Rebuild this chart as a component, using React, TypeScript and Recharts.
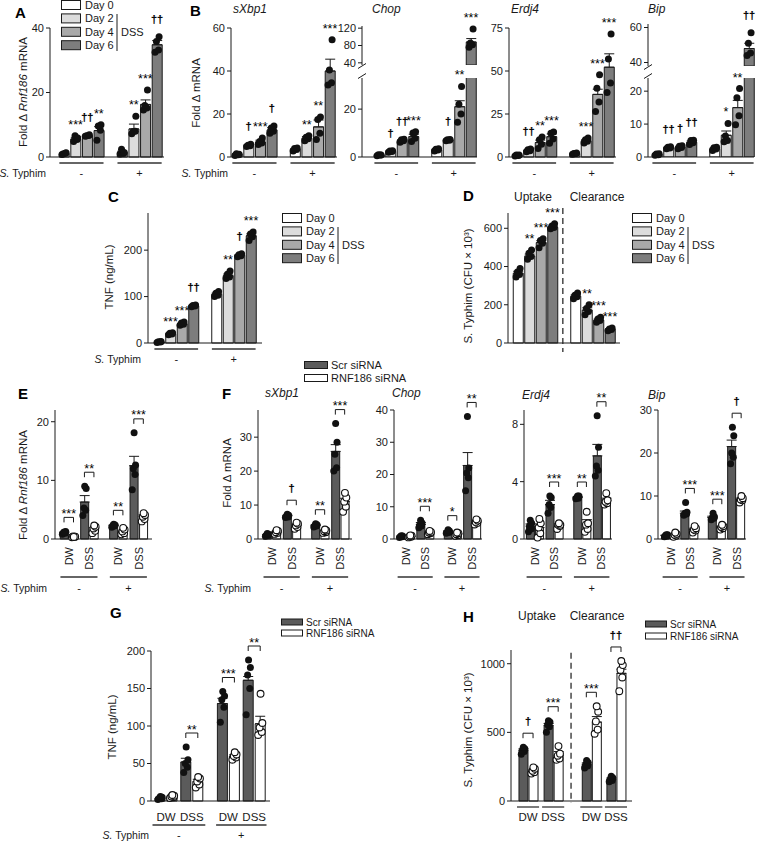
import React from 'react';
import { ComposedChart, Bar, Cell, ErrorBar, Scatter, XAxis, YAxis, ReferenceDot, ReferenceLine, Legend } from 'recharts';

const INK = '#1a1a1a';
const FONT = '"Liberation Sans", Arial, Helvetica, sans-serif';
const DAY_FILLS = ['#ffffff', '#dcdcdc', '#a9a9a9', '#7d7d7d'];
const SCR_FILL = '#5b5b5b';
const RNF_FILL = '#ffffff';

// ---------- categories & labels ----------
const dayLabels = ['Day 0', 'Day 2', 'Day 4', 'Day 6'];
const siLabels = ['Scr siRNA', 'RNF186 siRNA'];
const typhimLabels = ['-', '+'];
const treatLabels = ['DW', 'DSS'];

// ---------- A: Rnf186 mRNA ----------
const A_mean = [1.0, 5.6, 6.6, 8.2, 1.4, 8.7, 16.3, 34.8];
const A_err = [0.15, 0.5, 0.15, 1.2, 0.4, 1.5, 1.4, 1.3];
const A_dots = [[0.8, 1.2, 1.0, 1.3], [4.8, 5.4, 6.6, 5.9], [6.4, 6.7, 6.6, 6.9], [5.2, 8.3, 9.6, 10.0], [0.9, 1.1, 2.4, 1.4], [7.2, 8.0, 7.9, 12.6], [14.6, 15.2, 16.0, 20.8], [32.5, 33.2, 35.8, 37.3]];
const A_sig = ['', '***', '††', '**', '', '**', '***', '††'];

// ---------- B ----------
const Bx_mean = [1.2, 5.4, 7.0, 12.6, 3.6, 8.8, 14.0, 40.0];
const Bx_err = [0.3, 0.3, 0.8, 1.0, 0.4, 0.7, 3.2, 5.5];
const Bx_dots = [[0.7, 1.0, 1.5, 1.3], [4.9, 5.2, 5.5, 5.9], [5.8, 6.5, 7.2, 8.8], [11.0, 12.0, 13.5, 14.4], [2.8, 3.5, 4.0, 4.2], [7.6, 8.5, 9.2, 9.9], [8.1, 11.0, 17.4, 18.6], [33.5, 34.5, 40.5, 54.5]];
const Bx_sig = ['', '†', '***', '†', '', '**', '**', '***'];

const Bc_mean = [0.8, 2.4, 6.9, 8.5, 3.0, 7.1, 21.0, 88];
const Bc_err = [0.1, 0.2, 0.4, 1.0, 0.3, 0.3, 2.5, 8];
const Bc_dots = [[0.5, 0.8, 0.9, 0.8], [2.0, 2.3, 2.5, 2.6], [6.2, 6.8, 7.2, 7.4], [6.5, 7.8, 10.0, 10.5], [2.5, 2.9, 3.2, 3.4], [6.8, 7.0, 7.2, 7.3], [14.5, 18.0, 22.0, 29.5], [76, 82, 86, 118]];
const Bc_sig = ['', '†', '††', '***', '', '†', '**', '***'];

const Be_mean = [1.0, 3.8, 8.4, 11.8, 2.0, 9.5, 36.4, 52.2];
const Be_err = [0.2, 0.4, 1.4, 1.6, 0.2, 0.7, 3.0, 7.8];
const Be_dots = [[0.6, 0.9, 1.1, 1.2], [3.0, 3.6, 4.2, 4.6], [5.0, 7.4, 10.0, 11.6], [8.0, 10.5, 13.8, 14.5], [1.6, 2.0, 2.1, 2.3], [8.2, 9.2, 10.1, 11.0], [26.5, 32.0, 40.0, 47.8], [37.5, 43.0, 57.0, 71.5]];
const Be_sig = ['', '††', '**', '***', '', '***', '***', '***'];

const Bb_mean = [0.8, 2.8, 3.0, 4.5, 2.5, 6.6, 15.0, 48];
const Bb_err = [0.1, 0.2, 0.3, 0.4, 0.3, 1.3, 2.2, 3.0];
const Bb_dots = [[0.5, 0.7, 0.9, 1.0], [2.5, 2.7, 3.0, 3.1], [2.5, 2.9, 3.3, 3.4], [3.8, 4.3, 5.0, 5.1], [2.0, 2.4, 2.8, 3.0], [4.6, 5.0, 6.4, 10.2], [9.8, 12.5, 18.0, 20.8], [44, 45.5, 51, 57]];
const Bb_sig = ['', '††', '†', '††', '', '*', '**', '††'];

// ---------- C: TNF ----------
const C_mean = [2, 20, 41, 80, 105, 145, 189, 231];
const C_err = [0.5, 1, 1.5, 1, 2.5, 3.5, 1, 4];
const C_dots = [[1, 2, 2.5, 3], [18, 19.5, 21, 22], [38, 40.5, 43, 45], [78, 79.5, 81, 82], [100, 103, 107, 111], [139, 142, 148, 155], [186, 188, 190, 192], [221, 229, 235, 239]];
const C_sig = ['', '***', '***', '††', '', '**', '†', '***'];

// ---------- D: S. Typhim CFU ----------
const D_mean = [365, 455, 525, 605, 245, 172, 120, 72];
const D_err = [10, 10, 10, 6, 7, 12, 6, 3];
const D_dots = [[345, 358, 372, 390], [438, 452, 470, 486], [498, 522, 536, 545], [598, 604, 612, 624], [232, 242, 250, 262], [148, 165, 180, 200], [108, 118, 126, 135], [64, 70, 73, 79]];
const D_sig = ['', '**', '***', '***', '', '**', '***', '***'];

// ---------- E ----------
const E_mean = [1.1, 0.4, 6.3, 1.7, 2.3, 1.3, 12.5, 3.8];
const E_err = [0.1, 0.05, 1.1, 0.25, 0.1, 0.2, 1.6, 0.3];
const E_dots = [[0.8, 1.0, 1.1, 1.3, 1.2], [0.3, 0.4, 0.45, 0.4, 0.35], [4.0, 4.9, 5.3, 8.6, 9.0], [1.0, 1.4, 1.8, 2.1, 2.3], [2.0, 2.2, 2.3, 2.4, 2.5], [0.8, 1.0, 1.3, 1.6, 1.9], [8.4, 11.0, 12.0, 12.6, 18.1], [3.0, 3.4, 3.8, 4.1, 4.4]];
const E_sig = ['***', '**', '**', '***'];

// ---------- F ----------
const Fx_mean = [1.2, 2.0, 6.8, 4.0, 4.0, 2.3, 25.8, 11.0];
const Fx_err = [0.15, 0.3, 0.2, 0.3, 0.2, 0.2, 2.0, 1.0];
const Fx_dots = [[0.8, 1.0, 1.2, 1.4, 1.6], [1.5, 1.8, 2.0, 2.4, 2.6], [6.3, 6.5, 6.8, 7.0, 7.3], [3.0, 3.5, 4.0, 4.5, 4.8], [3.5, 3.8, 4.0, 4.2, 4.5], [1.8, 2.0, 2.3, 2.5, 2.8], [20.0, 21.0, 25.0, 28.5, 34.0], [8.0, 9.5, 11.0, 12.2, 13.6]];
const Fx_sig = ['', '†', '**', '***'];

const Fc_mean = [0.8, 0.8, 4.5, 2.0, 2.3, 1.5, 22.8, 5.3];
const Fc_err = [0.1, 0.1, 0.6, 0.2, 0.3, 0.2, 4.0, 0.3];
const Fc_dots = [[0.5, 0.7, 0.8, 0.9, 1.0], [0.5, 0.7, 0.8, 1.0, 1.1], [3.5, 4.0, 4.5, 5.0, 5.8], [1.5, 1.8, 2.0, 2.2, 2.5], [1.8, 2.0, 2.2, 2.5, 2.9], [1.0, 1.2, 1.5, 1.8, 2.0], [15.0, 19.0, 20.5, 22.0, 38.0], [4.5, 5.0, 5.3, 5.7, 6.1]];
const Fc_sig = ['', '***', '*', '**'];

const Fe_mean = [0.9, 0.8, 2.4, 0.95, 2.9, 1.05, 5.8, 2.7];
const Fe_err = [0.15, 0.25, 0.3, 0.1, 0.05, 0.3, 0.8, 0.15];
const Fe_dots = [[0.5, 0.7, 0.9, 1.1, 1.3], [0.1, 0.4, 0.8, 1.1, 1.4], [1.8, 2.2, 2.4, 2.9, 3.0], [0.7, 0.9, 1.0, 1.0, 1.1], [2.8, 2.85, 2.9, 3.0, 3.0], [0.5, 0.7, 1.0, 1.1, 1.9], [4.4, 4.8, 5.1, 6.4, 8.6], [2.4, 2.5, 2.6, 2.7, 3.2]];
const Fe_sig = ['', '***', '**', '**'];

const Fb_mean = [0.8, 0.9, 6.0, 2.2, 5.0, 2.8, 21.5, 9.2];
const Fb_err = [0.1, 0.2, 0.5, 0.3, 0.3, 0.2, 1.5, 0.3];
const Fb_dots = [[0.5, 0.7, 0.8, 1.0, 1.0], [0.5, 0.8, 1.0, 1.2, 1.5], [5.5, 5.8, 6.0, 6.2, 8.5], [1.5, 2.0, 2.2, 2.5, 3.0], [4.5, 4.8, 5.0, 5.2, 6.0], [2.2, 2.5, 2.8, 3.0, 3.3], [17.5, 19.0, 20.0, 24.0, 26.0], [8.5, 9.0, 9.2, 9.5, 10.0]];
const Fb_sig = ['', '***', '***', '†'];

// ---------- G: TNF siRNA ----------
const G_mean = [4, 6, 52, 26, 130, 60, 161, 103];
const G_err = [1, 1, 5, 3, 7, 2, 5, 10];
const G_dots = [[2, 3, 4, 5, 6], [4, 5, 6, 7, 8], [38, 45, 50, 55, 72], [18, 22, 26, 30, 32], [105, 125, 135, 140, 146], [55, 58, 60, 62, 65], [115, 150, 168, 178, 188], [88, 92, 98, 104, 143]];
const G_sig = ['', '**', '***', '**'];

// ---------- H: CFU siRNA ----------
const H_mean = [370, 220, 550, 335, 265, 575, 160, 930];
const H_err = [10, 10, 15, 25, 12, 40, 8, 30];
const H_dots = [[340, 360, 370, 380, 392], [200, 210, 220, 235, 245], [500, 540, 555, 575, 585], [300, 310, 330, 345, 400], [240, 255, 265, 280, 295], [490, 520, 580, 650, 690], [140, 150, 160, 170, 180], [800, 900, 955, 990, 1020]];
const H_sig = ['†', '***', '***', '††'];

// ---------- layout helpers ----------
const DAY_SLOTS = [0, 1, 2, 3, 5, 6, 7, 8];
const SI_SLOTS = [0, 1, 2.15, 3.15, 5.2, 6.2, 7.35, 8.35];
const H_SLOTS = [0, 1, 2.5, 3.5, 6.3, 7.3, 8.75, 9.75];
const JIT = [-0.17, 0.13, -0.05, 0.18, 0.03];
const TICK_FS = 11;
const LABEL_FS = 11;

type Seg = [string, boolean?];

const dayBottom = (dx: number, typhim: boolean) => ({
  groups: [{ c: 1.5, half: 1.9, label: typhimLabels[0] }, { c: 6.5, half: 1.9, label: typhimLabels[1] }],
  gLineDy: 6, gTextDy: 16, typhim, typhimDx: dx,
});
const siPairC = [0.5, 2.65, 5.7, 7.85];
const siBottomRot = (dx: number, typhim: boolean) => ({
  groups: [{ c: 1.575, half: 1.95, label: typhimLabels[0] }, { c: 6.775, half: 1.95, label: typhimLabels[1] }],
  gLineDy: 38, gTextDy: 49, typhim, typhimDx: dx,
  pairs: siPairC.map((c, i) => ({ c, label: treatLabels[i % 2] })), pairMode: 'rot', pairDy: 8,
});

function daySpec(o: any) {
  return { barW: 10, ...o, slots: DAY_SLOTS, fills: DAY_SLOTS.map((_, i) => DAY_FILLS[i % 4]), open: DAY_SLOTS.map(() => false) };
}
function siSpec(o: any) {
  const slots = o.slots || SI_SLOTS;
  return { barW: 8, ...o, slots, fills: slots.map((_: any, i: number) => (i % 2 ? RNF_FILL : SCR_FILL)), open: slots.map((_: any, i: number) => i % 2 === 1) };
}

function DayLegendSvg() {
  return (
    <svg width={110} height={58} style={{ display: 'block', overflow: 'visible', fontFamily: FONT }}>
      {dayLabels.map((d, i) => {
        const cy = 5 + i * 13.4;
        return (
          <g key={d}>
            <rect x={0.5} y={cy - 4.5} width={19} height={9} fill={DAY_FILLS[i]} stroke={INK} strokeWidth={1} />
            <text x={24} y={cy} dominantBaseline="central" fontSize={11} fill={INK}>{d}</text>
          </g>
        );
      })}
      <line x1={56} x2={56} y1={14} y2={51} stroke={INK} strokeWidth={1} />
      <text x={60} y={32} dominantBaseline="central" fontSize={11} fill={INK}>DSS</text>
    </svg>
  );
}

function SiLegendSvg({ fs, gap, bw, bh }: any) {
  return (
    <svg width={120} height={30} style={{ display: 'block', overflow: 'visible', fontFamily: FONT }}>
      {siLabels.map((l, i) => {
        const cy = 5 + i * gap;
        return (
          <g key={l}>
            <rect x={0.5} y={cy - bh / 2} width={bw} height={bh} fill={i ? RNF_FILL : SCR_FILL} stroke={INK} strokeWidth={1} />
            <text x={bw + 4} y={cy} dominantBaseline="central" fontSize={fs} fill={INK}>{l}</text>
          </g>
        );
      })}
    </svg>
  );
}

function Panel({ s }: { s: any }) {
  const [L, T, W, H] = s.box;
  const [x0, y0, x1, y1] = s.plot;
  const xDomain: [number, number] = [-(s.first - x0) / s.unit, (x1 - s.first) / s.unit];
  const [ymin, ymax] = s.yDomain;
  const rows = s.slots.map((x: number, i: number) => ({
    x,
    mean: s.clip && s.means[i] < ymin ? null : s.means[i],
    errRange: [0, s.errs[i]], fill: s.fills[i], open: s.open[i], dots: s.dots[i],
    top: Math.max(s.means[i] + s.errs[i], ...s.dots[i]),
  }));
  const inY = (v: number) => v >= ymin && v <= ymax;
  const solid: any[] = [];
  const hollow: any[] = [];
  rows.forEach((r: any) => r.dots.forEach((v: number, j: number) => {
    if (!inY(v)) return;
    (r.open ? hollow : solid).push({ x: r.x + JIT[j % JIT.length], y: v });
  }));
  const sigs = (s.sig || []).map((t: string, i: number) => ({ t, x: rows[i].x, y: rows[i].top })).filter((m: any) => m.t && inY(m.y));
  const brackets = (s.pairSig || []).map((t: string, k: number) => ({
    t, x: (rows[2 * k].x + rows[2 * k + 1].x) / 2, hw: ((rows[2 * k + 1].x - rows[2 * k].x) / 2) * s.unit,
    y: Math.max(rows[2 * k].top, rows[2 * k + 1].top),
  })).filter((b: any) => b.t);
  const margin = { top: y0 - T, right: L + W - x1, left: 0, bottom: s.hideX ? T + H - y1 : 0 };
  const yW = x0 - L;
  const xH = T + H - y1;
  const b = s.bottom;
  const tickVals = b ? [...(b.groups || []).map((g: any) => g.c), ...(b.pairs || []).map((p: any) => p.c)].sort((a, c) => a - c) : [];

  const renderTick = (p: any) => {
    const v = p.payload.value;
    const x = p.x;
    const y = p.y;
    const g = (b.groups || []).find((q: any) => Math.abs(q.c - v) < 1e-6);
    if (g) {
      const hw = g.half * s.unit;
      const first = g === b.groups[0];
      const plotLeft = x - (v - xDomain[0]) * s.unit;
      return (
        <g>
          <line x1={x - hw} x2={x + hw} y1={y + b.gLineDy} y2={y + b.gLineDy} stroke="#333" strokeWidth={1.3} />
          <text x={x} y={y + b.gTextDy} textAnchor="middle" dominantBaseline="central" fontSize={LABEL_FS} fill={INK}>{g.label}</text>
          {b.typhim && first ? (
            <text x={plotLeft + b.typhimDx} y={y + b.gTextDy} textAnchor="end" dominantBaseline="central" fontSize={10.5} fill={INK}>
              <tspan fontStyle="italic">S.</tspan> Typhim
            </text>
          ) : null}
        </g>
      );
    }
    const pr = (b.pairs || []).find((q: any) => Math.abs(q.c - v) < 1e-6);
    if (pr) {
      if (b.pairMode === 'rot') {
        return (
          <text transform={`translate(${x},${y + b.pairDy}) rotate(-90)`} textAnchor="end" dominantBaseline="central" fontSize={LABEL_FS} fill={INK}>{pr.label}</text>
        );
      }
      return (
        <g>
          {b.pairLineDy != null ? (
            <line x1={x - b.pairHalf * s.unit} x2={x + b.pairHalf * s.unit} y1={y + b.pairLineDy} y2={y + b.pairLineDy} stroke="#333" strokeWidth={1.3} />
          ) : null}
          <text x={x} y={y + b.pairDy} textAnchor="middle" dominantBaseline="central" fontSize={LABEL_FS + 0.5} fill={INK}>{pr.label}</text>
        </g>
      );
    }
    return <g />;
  };

  const markText = (t: string, x: number, y: number) => {
    const star = t.includes('*');
    return (
      <text x={x} y={y} textAnchor="middle" fontSize={star ? 12.5 : 11} fontWeight={star ? 'normal' : 'bold'}
        fill="#000" stroke={star ? 'none' : '#000'} strokeWidth={star ? 0 : 0.2}>{t}</text>
    );
  };
  const sigShape = (t: string) => (p: any) => markText(t, p.cx, p.cy - (t.includes('*') ? 7 : 14));
  const bracketShape = (t: string, hw: number) => (p: any) => {
    const ly = p.cy - 14;
    return (
      <g>
        <path d={`M${p.cx - hw},${ly + 5}V${ly}H${p.cx + hw}V${ly + 5}`} fill="none" stroke={INK} strokeWidth={1} />
        {markText(t, p.cx, t.includes('*') ? ly + 0.5 : ly - 8)}
      </g>
    );
  };

  let legendEl = null;
  if (s.legend) {
    const lg = s.legend;
    const content = lg.kind === 'day'
      ? () => <DayLegendSvg />
      : () => <SiLegendSvg fs={lg.fs} gap={lg.gap} bw={lg.bw} bh={lg.bh} />;
    legendEl = (
      <Legend
        layout="horizontal"
        verticalAlign="middle"
        align="center"
        content={content}
        wrapperStyle={{ position: 'absolute', left: lg.x - L, top: lg.y - T, width: 120, height: 60, margin: 0 }}
      />
    );
  }

  return (
    <div style={{ position: 'absolute', left: L, top: T, width: W, height: H }}>
      <ComposedChart width={W} height={H} data={rows} margin={margin}>
        <XAxis
          xAxisId="a" type="number" dataKey="x" domain={xDomain} hide={!!s.hideX} height={xH}
          ticks={tickVals} interval={0} tickLine={false} tickSize={0} tickMargin={0}
          tick={b ? renderTick : false} axisLine={{ stroke: INK, strokeWidth: 1 }}
        />
        <XAxis xAxisId="z" type="number" dataKey="x" domain={xDomain} hide height={0} />
        <YAxis
          yAxisId="a" type="number" domain={s.yDomain} ticks={s.yTicks} interval={0} width={yW}
          allowDataOverflow={!!s.clip} tickSize={4} tickMargin={2}
          tick={{ fontSize: TICK_FS, fill: INK }} axisLine={{ stroke: INK, strokeWidth: 1 }} tickLine={{ stroke: INK }}
        />
        <YAxis yAxisId="z" type="number" domain={s.yDomain} hide width={0} />
        {legendEl}
        <Bar xAxisId="a" yAxisId="a" dataKey="mean" barSize={s.barW} stroke={INK} strokeWidth={1} isAnimationActive={false}>
          {rows.map((r: any, i: number) => <Cell key={i} fill={r.fill} />)}
          <ErrorBar dataKey="errRange" width={5} stroke={INK} strokeWidth={1} direction="y" isAnimationActive={false} />
        </Bar>
        {s.dash ? (
          <ReferenceLine
            xAxisId="a" yAxisId="a" ifOverflow="visible" stroke={INK} strokeWidth={1.2} strokeDasharray="6 4"
            segment={[{ x: s.dash.x, y: s.dash.from }, { x: s.dash.x, y: s.dash.to }]}
          />
        ) : null}
        {solid.length ? (
          <Scatter xAxisId="z" yAxisId="z" data={solid} dataKey="y" isAnimationActive={false}
            shape={(p: any) => <circle cx={p.cx} cy={p.cy} r={3.5} fill="#111" />} />
        ) : null}
        {hollow.length ? (
          <Scatter xAxisId="z" yAxisId="z" data={hollow} dataKey="y" isAnimationActive={false}
            shape={(p: any) => <circle cx={p.cx} cy={p.cy} r={3.4} fill="#fff" stroke="#111" strokeWidth={1.1} />} />
        ) : null}
        {sigs.map((m: any, i: number) => (
          <ReferenceDot key={'s' + i} xAxisId="a" yAxisId="a" x={m.x} y={m.y} ifOverflow="visible" shape={sigShape(m.t)} />
        ))}
        {brackets.map((m: any, i: number) => (
          <ReferenceDot key={'b' + i} xAxisId="a" yAxisId="a" x={m.x} y={m.y} ifOverflow="visible" shape={bracketShape(m.t, m.hw)} />
        ))}
      </ComposedChart>
    </div>
  );
}

const SPECS: any[] = [
  daySpec({ id: 'A', box: [0, 0, 172, 182], plot: [50, 28, 164, 157], first: 64, unit: 11.625, yDomain: [0, 40], yTicks: [0, 20, 40],
    means: A_mean, errs: A_err, dots: A_dots, sig: A_sig, bottom: dayBottom(-4, true), legend: { kind: 'day', x: 61, y: -0.5 } }),
  daySpec({ id: 'Bx', box: [172, 0, 170, 182], plot: [231, 28, 337, 157], first: 237, unit: 11.625, yDomain: [0, 60], yTicks: [0, 20, 40, 60],
    means: Bx_mean, errs: Bx_err, dots: Bx_dots, sig: Bx_sig, bottom: dayBottom(-3, true) }),
  daySpec({ id: 'BcLo', box: [330, 55, 152, 127], plot: [362, 78, 477, 157], first: 379, unit: 11.5, yDomain: [0, 33], yTicks: [0, 20], clip: true,
    means: Bc_mean, errs: Bc_err, dots: Bc_dots, sig: Bc_sig, bottom: dayBottom(-4, false) }),
  daySpec({ id: 'BcUp', box: [330, 0, 152, 70], plot: [362, 26, 477, 65], first: 379, unit: 11.5, yDomain: [35, 125], yTicks: [40, 80, 120], clip: true, hideX: true,
    means: Bc_mean, errs: Bc_err, dots: Bc_dots, sig: Bc_sig }),
  daySpec({ id: 'Be', box: [482, 0, 138, 182], plot: [509, 28, 616, 157], first: 517, unit: 11.5, yDomain: [0, 75], yTicks: [0, 25, 50, 75],
    means: Be_mean, errs: Be_err, dots: Be_dots, sig: Be_sig, bottom: dayBottom(-4, false) }),
  daySpec({ id: 'BbLo', box: [620, 55, 139, 127], plot: [648, 78, 754, 157], first: 657, unit: 11.5, yDomain: [0, 24], yTicks: [0, 10, 20], clip: true,
    means: Bb_mean, errs: Bb_err, dots: Bb_dots, sig: Bb_sig, bottom: dayBottom(-4, false) }),
  daySpec({ id: 'BbUp', box: [620, 0, 139, 72], plot: [648, 24, 754, 66], first: 657, unit: 11.5, yDomain: [38, 62], yTicks: [40, 60], clip: true, hideX: true,
    means: Bb_mean, errs: Bb_err, dots: Bb_dots, sig: Bb_sig }),
  daySpec({ id: 'C', box: [80, 200, 285, 165], plot: [148, 213, 262, 343], first: 159, unit: 11.5, yDomain: [0, 280], yTicks: [0, 100, 200],
    means: C_mean, errs: C_err, dots: C_dots, sig: C_sig, bottom: dayBottom(-7, true), legend: { kind: 'day', x: 282, y: 213 } }),
  daySpec({ id: 'D', box: [455, 190, 304, 170], plot: [508, 213, 620, 343], first: 518, unit: 11.5, yDomain: [0, 680], yTicks: [0, 200, 400, 600],
    means: D_mean, errs: D_err, dots: D_dots, sig: D_sig, dash: { x: 3.9, from: 706, to: -47 }, legend: { kind: 'day', x: 632, y: 213 } }),
  siSpec({ id: 'E', box: [0, 395, 160, 203], plot: [55, 410, 152, 539], first: 64, unit: 9.5, yDomain: [0, 22], yTicks: [0, 10, 20],
    means: E_mean, errs: E_err, dots: E_dots, pairSig: E_sig, bottom: siBottomRot(-8, true) }),
  siSpec({ id: 'Fx', box: [195, 355, 205, 243], plot: [258, 410, 352, 539], first: 267, unit: 9.3, yDomain: [0, 38], yTicks: [0, 10, 20, 30],
    means: Fx_mean, errs: Fx_err, dots: Fx_dots, pairSig: Fx_sig, bottom: siBottomRot(-7, true),
    legend: { kind: 'si', x: 304, y: 360, fs: 11, gap: 13, bw: 23, bh: 7 } }),
  siSpec({ id: 'Fc', box: [370, 390, 117, 208], plot: [394, 410, 482, 539], first: 401, unit: 9, yDomain: [0, 40], yTicks: [0, 10, 20, 30, 40],
    means: Fc_mean, errs: Fc_err, dots: Fc_dots, pairSig: Fc_sig, bottom: siBottomRot(-8, false) }),
  siSpec({ id: 'Fe', box: [500, 390, 117, 208], plot: [524, 410, 612, 539], first: 530, unit: 9.1, yDomain: [0, 9], yTicks: [0, 4, 8],
    means: Fe_mean, errs: Fe_err, dots: Fe_dots, pairSig: Fe_sig, bottom: siBottomRot(-8, false) }),
  siSpec({ id: 'Fb', box: [630, 385, 125, 213], plot: [658, 410, 746, 539], first: 666, unit: 9, yDomain: [0, 30], yTicks: [0, 10, 20, 30],
    means: Fb_mean, errs: Fb_err, dots: Fb_dots, pairSig: Fb_sig, bottom: siBottomRot(-8, false) }),
  siSpec({ id: 'G', box: [95, 605, 290, 236], plot: [151, 651, 270, 801], first: 160, unit: 12, barW: 10, yDomain: [0, 200], yTicks: [0, 50, 100, 150, 200],
    means: G_mean, errs: G_err, dots: G_dots, pairSig: G_sig,
    bottom: {
      groups: [{ c: 1.575, half: 2.2, label: typhimLabels[0] }, { c: 6.775, half: 2.1, label: typhimLabels[1] }],
      gLineDy: 24, gTextDy: 34, typhim: true, typhimDx: -2,
      pairs: siPairC.map((c, i) => ({ c, label: treatLabels[i % 2] })), pairMode: 'flat', pairDy: 15.5,
    },
    legend: { kind: 'si', x: 281, y: 617, fs: 10, gap: 11, bw: 21, bh: 6 } }),
  siSpec({ id: 'H', box: [455, 600, 304, 230], plot: [511, 650, 632, 801], first: 523, unit: 10.05, slots: H_SLOTS, barW: 9, yDomain: [0, 1100], yTicks: [0, 500, 1000],
    means: H_mean, errs: H_err, dots: H_dots, pairSig: H_sig, dash: { x: 4.78, from: 1080, to: -15 },
    bottom: {
      pairs: [0.5, 3.0, 6.8, 9.25].map((c, i) => ({ c, label: treatLabels[i % 2] })), pairMode: 'flat', pairDy: 16, pairLineDy: 6, pairHalf: 1.1,
    },
    legend: { kind: 'si', x: 645, y: 619, fs: 10, gap: 12, bw: 21, bh: 6 } }),
];

function VTitle({ x, y, segs }: { x: number; y: number; segs: Seg[] }) {
  return (
    <text transform={`translate(${x},${y}) rotate(-90)`} textAnchor="middle" dominantBaseline="central" fontSize={11.5} fill={INK}>
      {segs.map(([t, it], i) => <tspan key={i} fontStyle={it ? 'italic' : 'normal'}>{t}</tspan>)}
    </text>
  );
}

const RNF_TITLE: Seg[] = [['Fold Δ '], ['Rnf186', true], [' mRNA']];
const FOLD_TITLE: Seg[] = [['Fold Δ mRNA']];
const TNF_TITLE: Seg[] = [['TNF (ng/mL)']];
const CFU_TITLE: Seg[] = [['S. Typhim (CFU × 10³)']];

function Overlay() {
  const letters: [string, number, number][] = [['A', 15, 17.5], ['B', 190, 15.5], ['C', 108, 202], ['D', 463, 200.5], ['E', 18, 398.5], ['F', 222, 398.5], ['G', 110, 617.5], ['H', 463, 621.5]];
  const subs: [string, number, number][] = [['sXbp1', 233, 13], ['Chop', 372, 13], ['Erdj4', 511, 13], ['Bip', 648, 13], ['sXbp1', 265, 397], ['Chop', 392, 397], ['Erdj4', 522, 399], ['Bip', 648, 399]];
  const brk = (x: number, y: number) => <line x1={x - 4} y1={y + 2.5} x2={x + 4} y2={y - 2.5} stroke={INK} strokeWidth={1} />;
  return (
    <svg width={759} height={841} style={{ position: 'absolute', left: 0, top: 0, pointerEvents: 'none', fontFamily: FONT }}>
      {letters.map(([t, x, y]) => <text key={t} x={x} y={y} fontSize={15} fontWeight="bold" fill="#000">{t}</text>)}
      {subs.map(([t, x, y], i) => <text key={i} x={x} y={y} fontSize={12} fontStyle="italic" fill={INK}>{t}</text>)}
      <text x={533} y={201} textAnchor="middle" fontSize={12} fill={INK}>Uptake</text>
      <text x={597} y={201} textAnchor="middle" fontSize={12} fill={INK}>Clearance</text>
      <text x={537} y={620} textAnchor="middle" fontSize={12} fill={INK}>Uptake</text>
      <text x={597} y={620} textAnchor="middle" fontSize={12} fill={INK}>Clearance</text>
      <VTitle x={23} y={92} segs={RNF_TITLE} />
      <VTitle x={196} y={93} segs={FOLD_TITLE} />
      <VTitle x={109} y={277} segs={TNF_TITLE} />
      <VTitle x={468} y={286} segs={CFU_TITLE} />
      <VTitle x={23} y={485} segs={RNF_TITLE} />
      <VTitle x={227} y={473} segs={FOLD_TITLE} />
      <VTitle x={112} y={727} segs={TNF_TITLE} />
      <VTitle x={468} y={730} segs={CFU_TITLE} />
      {brk(362, 66)}{brk(362, 76)}
      {brk(648, 67)}{brk(648, 76)}
    </svg>
  );
}

export default function App() {
  return (
    <div style={{ position: 'absolute', left: 0, top: 0, width: 759, height: 841, background: '#fff', overflow: 'hidden', fontFamily: FONT, color: INK }}>
      {SPECS.map((s) => <Panel key={s.id} s={s} />)}
      <Overlay />
    </div>
  );
}
